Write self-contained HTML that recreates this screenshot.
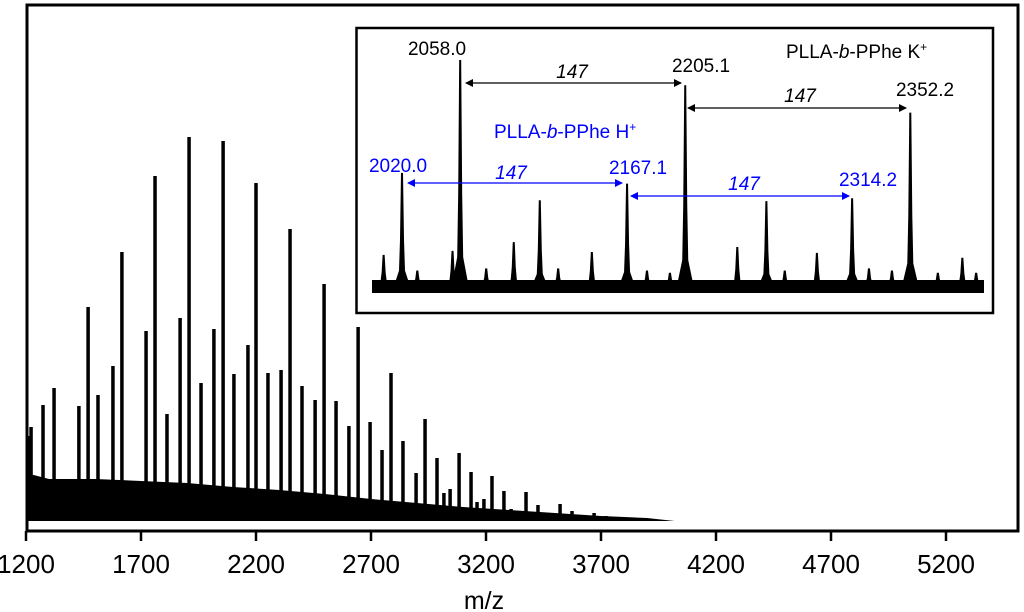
<!DOCTYPE html>
<html><head><meta charset="utf-8"><style>
html,body{margin:0;padding:0;background:#fff;}
svg{display:block;font-family:"Liberation Sans",Arial,sans-serif;}
</style></head><body>
<svg id="chart" width="1024" height="612" viewBox="0 0 1024 612" xmlns="http://www.w3.org/2000/svg">
<defs>
<marker id="ab" markerWidth="8" markerHeight="8" refX="7" refY="4" orient="auto-start-reverse" markerUnits="userSpaceOnUse"><path d="M0 0 L8 4 L0 8 Z" fill="#000"/></marker>
<marker id="ablue" markerWidth="8" markerHeight="8" refX="7" refY="4" orient="auto-start-reverse" markerUnits="userSpaceOnUse"><path d="M0 0 L8 4 L0 8 Z" fill="#00f"/></marker>
</defs>
<rect x="0" y="0" width="1024" height="612" fill="#fff"/>
<g id="main-marks"></g>
<g id="inset">
  <rect x="356.5" y="28" width="636.5" height="285" fill="#fff" stroke="#000" stroke-width="2.5"/>
  <g id="inset-marks"></g>
  <g id="inset-ann">
<text x="437" y="55" font-size="19" text-anchor="middle">2058.0</text>
<text x="701" y="72" font-size="19" text-anchor="middle">2205.1</text>
<text x="925" y="96" font-size="19" text-anchor="middle">2352.2</text>
<text x="786" y="58" font-size="19">PLLA-<tspan font-style="italic">b</tspan>-PPhe K<tspan font-size="12" dy="-7">+</tspan></text>
<text x="572" y="78" font-size="19" font-style="italic" text-anchor="middle">147</text>
<text x="800" y="102" font-size="19" font-style="italic" text-anchor="middle">147</text>
<line x1="466" y1="83" x2="681" y2="83" stroke="#000" stroke-width="1.3" marker-start="url(#ab)" marker-end="url(#ab)"/>
<line x1="688" y1="108" x2="906" y2="108" stroke="#000" stroke-width="1.3" marker-start="url(#ab)" marker-end="url(#ab)"/>
<g fill="#00f">
<text x="494" y="138" font-size="19">PLLA-<tspan font-style="italic">b</tspan>-PPhe H<tspan font-size="12" dy="-7">+</tspan></text>
<text x="398" y="172" font-size="19" text-anchor="middle">2020.0</text>
<text x="638" y="174" font-size="19" text-anchor="middle">2167.1</text>
<text x="868" y="186" font-size="19" text-anchor="middle">2314.2</text>
<text x="511" y="179" font-size="19" font-style="italic" text-anchor="middle">147</text>
<text x="744" y="190" font-size="19" font-style="italic" text-anchor="middle">147</text>
</g>
<line x1="408" y1="183" x2="622" y2="183" stroke="#00f" stroke-width="1.3" marker-start="url(#ablue)" marker-end="url(#ablue)"/>
<line x1="631" y1="196" x2="849" y2="196" stroke="#00f" stroke-width="1.3" marker-start="url(#ablue)" marker-end="url(#ablue)"/>
  </g>
</g>
<path d="M27 531 V5 H1018 V531 Z" fill="none" stroke="#000" stroke-width="3"/>
<g id="xaxis"></g>
<text x="484" y="609" font-size="25" text-anchor="middle">m/z</text>
</svg>
<script>
// ---- main spectrum data ----
const xTicks = [1200,1700,2200,2700,3200,3700,4200,4700,5200];
const peakMz = [1209,1222,1274,1322,1430,1470,1513,1578,1617,1722,1761,1813,1870,1909,1961,2017,2057,2104,2165,2200,2252,2309,2348,2400,2457,2496,2548,2604,2644,2696,2748,2787,2839,2896,2935,2987,3017,3044,3083,3135,3161,3191,3226,3278,3309,3343,3374,3426,3457,3487,3522,3574,3604,3670,3722];
const peakInt = [85,94,116,133,115,214,126,155,269,190,345,107,203,384,138,192,380,147,176,338,148,151,292,135,121,237,120,95,194,99,71,148,80,48,102,63,28,32,68,49,19,22,45,30,12,10,29,16,7,6,17,10,4,8,5];
const noiseMz = [1200,1300,1500,1700,1900,2100,2300,2500,2700,2900,3100,3300,3500,3700,3900,4020];
const noiseInt = [48,42,42,40,38,34,31,27,22,18,14,11,8,5,3,0];
// ---- inset data ----
const insetPeakMz = [2008,2020,2030,2053,2058,2075,2093,2110,2122,2144,2167,2180,2195,2205,2239,2258,2270,2291,2314,2325,2340,2352,2370,2386,2395];
const insetPeakInt = [13,49.6,6,14.8,100,7,18.7,37.4,7,14.3,44.8,6,5,88.7,16.5,37,6,13.9,38.3,7,6,76.5,5,11.7,5];

const NS='http://www.w3.org/2000/svg';
function mk(tag, attrs, parent){const e=document.createElementNS(NS,tag);for(const k in attrs)e.setAttribute(k,attrs[k]);parent.appendChild(e);return e;}
const X=m=>26+(m-1200)*0.23;
const Y=v=>521-v;
const main=document.getElementById('main-marks');
let d='M'+X(noiseMz[0])+' '+Y(0);
noiseMz.forEach((m,i)=>{d+=' L'+X(m).toFixed(1)+' '+Y(noiseInt[i]).toFixed(1);});
d+=' L'+X(noiseMz[noiseMz.length-1])+' '+Y(0)+' Z';
const band=mk('path',{d:d,fill:'#000'},main);


peakMz.forEach((m,i)=>{
  const l=mk('line',{x1:X(m),x2:X(m),y1:Y(0),y2:Y(peakInt[i]),stroke:'#000','stroke-width':3.5},main);
  
  
});
const xa=document.getElementById('xaxis');
xTicks.forEach(t=>{
  const tl=mk('line',{x1:X(t),x2:X(t),y1:531,y2:541,stroke:'#000','stroke-width':2.5},xa);
  
  
  const tx=mk('text',{x:X(t),y:573,'font-size':26,'text-anchor':'middle'},xa);
  
  
  tx.textContent=t;
});
const IX=m=>402+(m-2020)*1.531;
const IY=v=>284-v*2.24;
const im=document.getElementById('inset-marks');
const ib=mk('rect',{x:372,y:280,width:612,height:13,fill:'#000'},im);


insetPeakMz.forEach((m,i)=>{
  const x=IX(m), v=insetPeakInt[i], top=IY(v);
  const w = v>30?9:6;
  const p=mk('path',{d:`M${x-w} 289 L${x-3} ${IY(v*0.12)} L${x-2} ${IY(v*0.4)} L${x-1} ${top} L${x+1} ${top} L${x+2} ${IY(v*0.4)} L${x+3} ${IY(v*0.12)} L${x+w} 289 Z`,fill:'#000'},im);
  
  
});
</script>
</body></html>
